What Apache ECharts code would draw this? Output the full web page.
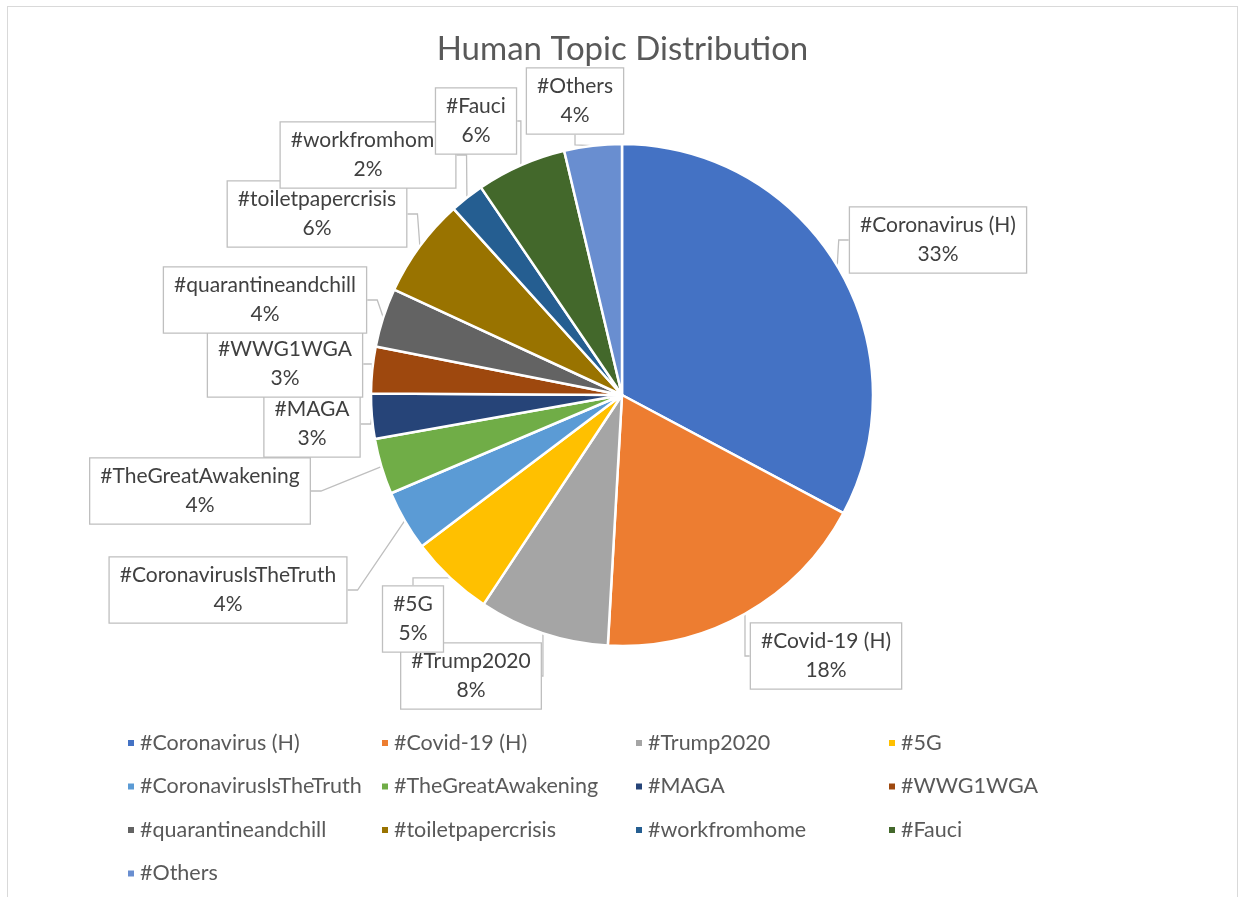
<!DOCTYPE html>
<html>
<head>
<meta charset="utf-8">
<title>Human Topic Distribution</title>
<script src="https://cdn.jsdelivr.net/npm/echarts@6/dist/echarts.min.js"></script>
<style>
    html, body { margin: 0; padding: 0; background: #fff; }
    #frame {
        position: absolute; left: 7px; top: 6px; width: 1231px; height: 900px;
        border: 1.5px solid #D9D9D9; box-sizing: border-box;
    }
    #chart { position: absolute; left: 0; top: 0; width: 1245px; height: 897px; }
</style>
</head>
<body>
<div id="frame"></div>
<div id="chart"></div>
<script>
// topics in clockwise order starting at 12 o'clock
const topics = [
    '#Coronavirus (H)', '#Covid-19 (H)', '#Trump2020', '#5G',
    '#CoronavirusIsTheTruth', '#TheGreatAwakening', '#MAGA', '#WWG1WGA',
    '#quarantineandchill', '#toiletpapercrisis', '#workfromhome', '#Fauci',
    '#Others'
]
// share of tweets (%)
const shares = [32.8, 18.1, 8.4, 5.4, 3.9, 3.6, 2.9, 3.0, 3.8, 6.4, 2.2, 5.8, 3.7]

const palette = [
    '#4472C4', '#ED7D31', '#A5A5A5', '#FFC000', '#5B9BD5', '#70AD47',
    '#264478', '#9E480E', '#636363', '#997300', '#255E91', '#43682B', '#698ED0'
]

// callout box centres (label layout only)
const labelPos = [
    [938, 240], [826, 656], [471, 676], [413, 619], [228, 590], [200, 491],
    [312, 424], [285, 364], [265, 300], [317, 214], [368, 155], [476, 121], [575, 101]
]

// legend laid out as 4 columns
const legendCols = [
    { left: 121, names: [0, 4, 8, 12] },
    { left: 375, names: [1, 5, 9] },
    { left: 629, names: [2, 6, 10] },
    { left: 882, names: [3, 7, 11] }
]

const FONT = 'Lato'

const chart = echarts.init(document.getElementById('chart'))

chart.setOption({
    color: palette,
    animation: false,
    title: {
        text: 'Human Topic Distribution',
        left: 'center',
        top: 28,
        textStyle: { color: '#595959', fontFamily: FONT, fontWeight: 'normal', fontSize: 33 }
    },
    legend: legendCols.map(col => ({
        orient: 'vertical',
        left: col.left,
        top: 727,
        icon: 'rect',
        itemWidth: 8,
        itemHeight: 8,
        itemGap: 21.5,
        itemTextGap: 9,
        selectedMode: false,
        data: col.names.map(i => topics[i]),
        textStyle: { color: '#595959', fontFamily: FONT, fontSize: 21.5, lineHeight: 22 }
    })),
    series: [{
        type: 'pie',
        center: [622, 395],
        radius: 251,
        startAngle: 90,
        clockwise: true,
        avoidLabelOverlap: false,
        itemStyle: { borderColor: '#fff', borderWidth: 2.5 },
        label: {
            show: true,
            position: 'outside',
            formatter: p => p.name + '\n' + Math.round(p.percent) + '%',
            color: '#404040',
            fontFamily: FONT,
            fontSize: 21,
            lineHeight: 29,
            align: 'center',
            backgroundColor: '#fff',
            borderColor: '#BFBFBF',
            borderWidth: 1.3,
            padding: [4, 10, 3, 10]
        },
        labelLine: {
            show: true,
            length: 10,
            length2: 10,
            lineStyle: { color: '#BFBFBF', width: 1.3 }
        },
        labelLayout: params => ({
            x: labelPos[params.dataIndex][0],
            y: labelPos[params.dataIndex][1],
            align: 'center',
            verticalAlign: 'middle'
        }),
        data: topics.map((name, i) => ({ name: name, value: shares[i] }))
    }]
})
</script>
</body>
</html>
